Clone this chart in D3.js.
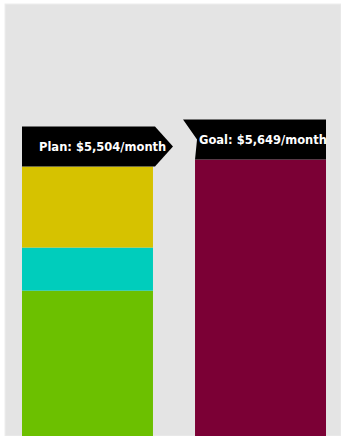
<!DOCTYPE html>
<html>
<head>
<meta charset="utf-8">
<script src="https://cdn.jsdelivr.net/npm/d3@7"></script>
<style>
  html, body { margin: 0; padding: 0; background: #ffffff; }
  svg { display: block; }
</style>
</head>
<body>
<svg id="chart" width="341" height="436"></svg>
<script>
// ---- data ----
const categories = ["Plan", "Goal"];
const planValues = [2970, 880, 1654];          // bottom (green), middle (teal), top (yellow)
const planColors = ["#6cc000", "#00cdbc", "#d6c200"];
const goalValues = [5649];
const goalColors = ["#7b0035"];
const labels = ["Plan: $5,504/month", "Goal: $5,649/month"];

const svg = d3.select("#chart");
const W = 341, H = 436;

// panel
svg.append("rect").attr("x", 5).attr("y", 4).attr("width", W - 5).attr("height", H - 4)
  .attr("fill", "#e4e4e4").attr("stroke", "#ededed").attr("stroke-width", 1);

const x = d3.scaleBand().domain(categories).range([22, 326]).paddingInner(0.243).paddingOuter(0);
const maxTotal = d3.max([d3.sum(planValues), d3.sum(goalValues)]);
const y = d3.scaleLinear().domain([0, maxTotal]).range([436, 159.5]);

function stackSeries(vals) {
  let acc = 0;
  return vals.map(v => { const s = { y0: acc, y1: acc + v }; acc += v; return s; });
}

const series = [
  { cat: "Plan", segs: stackSeries(planValues), colors: planColors, total: d3.sum(planValues) },
  { cat: "Goal", segs: stackSeries(goalValues), colors: goalColors, total: d3.sum(goalValues) }
];

series.forEach(s => {
  svg.append("g").selectAll("rect").data(s.segs).join("rect")
    .attr("x", x(s.cat))
    .attr("width", x.bandwidth())
    .attr("y", d => y(d.y1))
    .attr("height", d => y(d.y0) - y(d.y1))
    .attr("fill", (d, i) => s.colors[i]);
});

const font = "'DejaVu Sans', sans-serif";
const lh = 40;
// Plan: arrow pointing right
(function () {
  const s = series[0];
  const x0 = x(s.cat), x1 = x(s.cat) + x.bandwidth() + 2, top = y(s.total) - lh, bot = y(s.total);
  const tip = 18;
  const pts = [[x0, top], [x1, top], [x1 + tip, (top + bot) / 2], [x1, bot], [x0, bot]];
  svg.append("path").attr("d", d3.line()(pts) + "Z").attr("fill", "#000");
  svg.append("text").attr("x", x0 + 17).attr("y", (top + bot) / 2 + 4)
    .attr("fill", "#fff").attr("font-family", font)
    .attr("font-weight", "700").attr("font-size", "11.5px").text(labels[0]);
})();
// Goal: notched left
(function () {
  const s = series[1];
  const x0 = x(s.cat) - 12, x1 = x(s.cat) + x.bandwidth(), top = y(s.total) - lh, bot = y(s.total);
  const notch = 14;
  const pts = [[x0, top], [x1, top], [x1, bot], [x(s.cat), bot], [x0 + notch, (top + bot) / 2]];
  svg.append("path").attr("d", d3.line()(pts) + "Z").attr("fill", "#000");
  svg.append("text").attr("x", x(s.cat) + 4).attr("y", (top + bot) / 2 + 4)
    .attr("fill", "#fff").attr("font-family", font)
    .attr("font-weight", "700").attr("font-size", "11.5px").text(labels[1]);
})();
</script>
</body>
</html>
